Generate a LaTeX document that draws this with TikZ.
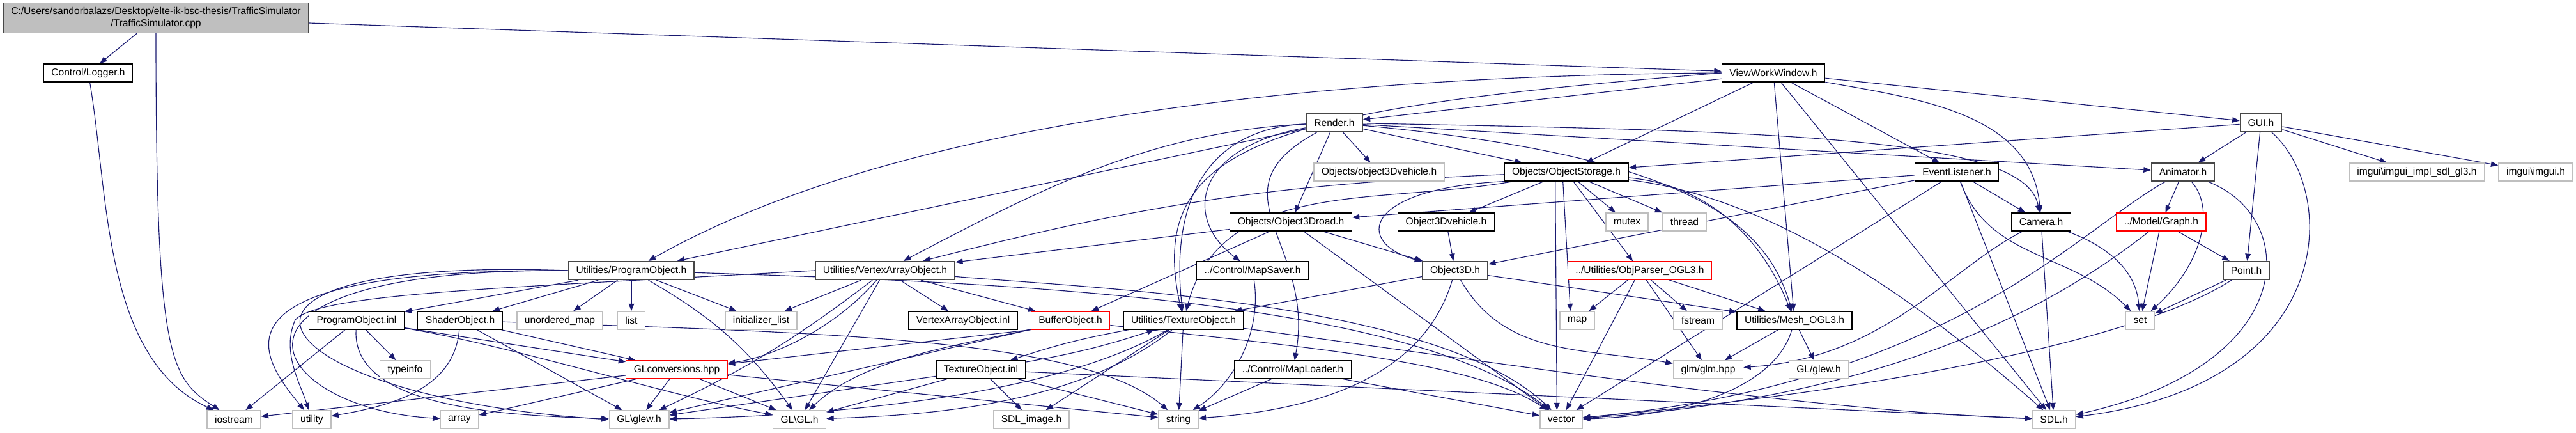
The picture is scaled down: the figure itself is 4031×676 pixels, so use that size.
\documentclass[tikz,border=0pt]{standalone}
\usepackage{fontspec}
\newfontfamily\doxfont{Liberation Sans}
\usetikzlibrary{arrows.meta,backgrounds}
\definecolor{edgeblue}{HTML}{191970}
\definecolor{sysgray}{HTML}{BFBFBF}
\tikzset{
  file/.style={draw=black, line width=1pt, fill=white, minimum height=21pt,
    inner xsep=9pt, inner ysep=0pt, font=\doxfont\fontsize{11.7}{14}\selectfont},
  docfile/.style={file, draw=black!72, line width=1.6pt},
  sysfile/.style={file, draw=sysgray, line width=1.2pt},
  cutfile/.style={file, draw=red, line width=1pt},
  rootfile/.style={file, fill=sysgray, draw=black!72, align=center, minimum height=35pt},
  dep/.style={draw=edgeblue, line width=0.85pt, -{Triangle[length=8.5pt,width=6.5pt]}},
}

\begin{document}
\begin{tikzpicture}[x=0.75pt, y=-0.75pt]
\useasboundingbox (0,0) rectangle (4031,676);

% files
\node[rootfile] (root) at (244,28) {C:/Users/sandorbalazs/Desktop/elte-ik-bsc-thesis/TrafficSimulator\\/TrafficSimulator.cpp};
\node[file] (logger) at (138,114) {Control/Logger.h};
\node[file] (vww) at (2775,114) {ViewWorkWindow.h};
\node[docfile] (render) at (2088,192) {Render.h};
\node[docfile] (gui) at (3538,192) {GUI.h};
\node[file] (objstor) at (2451,269) {Objects/ObjectStorage.h};
\node[sysfile] (objveh) at (2158,269) {Objects/object3Dvehicle.h};
\node[file] (evl) at (3062,269) {EventListener.h};
\node[docfile] (anim) at (3416,269) {Animator.h};
\node[sysfile] (imguiimpl) at (3782,269) {imgui\textbackslash imgui\_impl\_sdl\_gl3.h};
\node[sysfile] (imgui) at (3968,269) {imgui\textbackslash imgui.h};
\node[file] (road) at (2020,347) {Objects/Object3Droad.h};
\node[file] (vehicle) at (2263,347) {Object3Dvehicle.h};
\node[sysfile] (mutex) at (2546,347) {mutex};
\node[sysfile] (thread) at (2636,347) {thread};
\node[file] (camera) at (3194,347) {Camera.h};
\node[cutfile] (graph) at (3382,347) {../Model/Graph.h};
\node[docfile] (progobj) at (988,423) {Utilities/ProgramObject.h};
\node[docfile] (vao) at (1385,423) {Utilities/VertexArrayObject.h};
\node[file] (mapsaver) at (1960,423) {../Control/MapSaver.h};
\node[docfile] (obj3d) at (2277,423) {Object3D.h};
\node[cutfile] (objparser) at (2566,423) {../Utilities/ObjParser\_OGL3.h};
\node[docfile] (point) at (3515,423) {Point.h};
\node[file] (progobjinl) at (558,501) {ProgramObject.inl};
\node[file] (shader) at (720,501) {ShaderObject.h};
\node[sysfile] (umap) at (876,501) {unordered\_map};
\node[sysfile] (list) at (988,501) {list};
\node[sysfile] (initlist) at (1191,501) {initializer\_list};
\node[file] (vaoinl) at (1507,501) {VertexArrayObject.inl};
\node[cutfile] (buffer) at (1675,501) {BufferObject.h};
\node[file] (texobj) at (1852,501) {Utilities/TextureObject.h};
\node[sysfile] (map) at (2468,501) {map};
\node[sysfile] (fstream) at (2657,501) {fstream};
\node[file] (mesh) at (2808,501) {Utilities/Mesh\_OGL3.h};
\node[sysfile] (set) at (3349,501) {set};
\node[sysfile] (typeinfo) at (634,578) {typeinfo};
\node[cutfile] (glconv) at (1059,578) {GLconversions.hpp};
\node[file] (texinl) at (1535,578) {TextureObject.inl};
\node[file] (maploader) at (2023,578) {../Control/MapLoader.h};
\node[sysfile] (glmhpp) at (2673,578) {glm/glm.hpp};
\node[sysfile] (glglew) at (2846,578) {GL/glew.h};
\node[sysfile] (iostream) at (366,656) {iostream};
\node[sysfile] (utility) at (488,656) {utility};
\node[sysfile] (array) at (719,656) {array};
\node[sysfile] (glew) at (1000,656) {GL\textbackslash glew.h};
\node[sysfile] (glgl) at (1251,656) {GL\textbackslash GL.h};
\node[sysfile] (sdlimage) at (1614,656) {SDL\_image.h};
\node[sysfile] (string) at (1844,656) {string};
\node[sysfile] (vector) at (2443,656) {vector};
\node[sysfile] (sdl) at (3214,656) {SDL.h};

\begin{scope}[on background layer]
% TrafficSimulator.cpp and Logger
\draw[dep] (root) -- (logger);
\draw[dep] (root) .. controls (244,560) and (265,590) .. (iostream);
\draw[dep] (root) -- (vww);
\draw[dep] (logger) .. controls (170,300) and (160,560) .. (iostream);

% ViewWorkWindow.h
\draw[dep] (vww) -- (render);
\draw[dep] (vww) -- (objstor);
\draw[dep] (vww.west) .. controls (2050,118) and (1400,190) .. (progobj);
\draw[dep] (vww.west) .. controls (2000,170) and (1790,220) .. (texobj);
\draw[dep] (vww) -- (evl);
\draw[dep] (vww) to[out=-10,in=95] (camera);
\draw[dep] (vww) -- (gui);
\draw[dep] (vww) -- (mesh);
\draw[dep] (vww) -- (sdl);

% Render.h
\draw[dep] (render) -- (progobj);
\draw[dep] (render) .. controls (1800,205) and (1620,300) .. (vao);
\draw[dep] (render) .. controls (1900,200) and (1830,300) .. (texobj);
\draw[dep] (render) .. controls (1870,230) and (1850,340) .. (mapsaver);
\draw[dep] (render) .. controls (1890,300) and (2060,380) .. (maploader);
\draw[dep] (render) -- (road);
\draw[dep] (render) -- (objveh);
\draw[dep] (render) -- (objstor);
\draw[dep] (render) .. controls (2800,205) and (3170,215) .. (camera);
\draw[dep] (render) -- (anim);
\draw[dep] (render) .. controls (2600,240) and (2760,330) .. (mesh);

% GUI.h
\draw[dep] (gui) -- (objstor);
\draw[dep] (gui) -- (anim);
\draw[dep] (gui) -- (point);
\draw[dep] (gui) .. controls (3660,300) and (3660,600) .. (sdl);
\draw[dep] (gui) -- (imguiimpl);
\draw[dep] (gui) -- (imgui);

% Objects/ObjectStorage.h
\draw[dep] (objstor) to[bend right=6] (vao);
\draw[dep] (objstor) to[out=190,in=75] (texobj);
\draw[dep] (objstor.south west) .. controls (2130,295) and (2120,380) .. (obj3d);
\draw[dep] (objstor) -- (vehicle);
\draw[dep] ([xshift=-13pt]objstor.south) -- ([xshift=-5pt]vector.north);
\draw[dep] ([xshift=-4pt]objstor.south) -- ([xshift=-8pt]map.north);
\draw[dep] (objstor) -- (objparser);
\draw[dep] (objstor) -- (mutex);
\draw[dep] (objstor) -- (thread);
\draw[dep] (objstor) .. controls (2680,290) and (2760,380) .. (mesh);
\draw[dep] (objstor) .. controls (2700,300) and (2900,380) .. (sdl);

% EventListener.h
\draw[dep] (evl) -- (road);
\draw[dep] (evl) -- (obj3d);
\draw[dep] (evl) -- (vector);
\draw[dep] (evl) -- (sdl);
\draw[dep] (evl) to[out=-70,in=135] (set);
\draw[dep] (evl) -- (camera);

% Animator.h, Camera.h, Graph.h, Point.h
\draw[dep] (anim) -- (graph);
\draw[dep] (anim) .. controls (3470,330) and (3440,420) .. (set);
\draw[dep] (anim) .. controls (3250,360) and (3050,600) .. (vector);
\draw[dep] (anim) .. controls (3600,340) and (3600,570) .. (sdl);
\draw[dep] (camera) .. controls (3050,420) and (2950,560) .. (glmhpp);
\draw[dep] (camera) -- (sdl);
\draw[dep] (camera) to[out=-20,in=95] (set);
\draw[dep] (graph) .. controls (3250,450) and (3000,620) .. (vector);
\draw[dep] (graph) -- (set);
\draw[dep] (graph) -- (point);
\draw[dep] (point) -- (set);
\draw[dep] (point) .. controls (3350,530) and (2950,610) .. (vector);

% Object3D family
\draw[dep] (road) -- (vao);
\draw[dep] (road) -- (buffer);
\draw[dep] (road) -- (obj3d);
\draw[dep] (road) -- (vector);
\draw[dep] (vehicle) -- (obj3d);
\draw[dep] (obj3d) -- (texobj);
\draw[dep] (obj3d) .. controls (2230,580) and (2080,640) .. (string);
\draw[dep] (obj3d) to[out=-60,in=170] (glmhpp);
\draw[dep] (obj3d) -- (mesh);
\draw[dep] (objparser) -- (map);
\draw[dep] (objparser) -- (vector);
\draw[dep] (objparser) -- (glmhpp);
\draw[dep] (objparser) -- (fstream);
\draw[dep] (objparser) -- (mesh);
\draw[dep] (mesh) -- (glglew);
\draw[dep] (mesh) -- (glmhpp);
\draw[dep] (mesh) .. controls (2780,600) and (2650,650) .. (vector);
\draw[dep] (mapsaver) .. controls (1975,520) and (1930,600) .. (string);
\draw[dep] (maploader) -- (string);
\draw[dep] (maploader) -- (vector);

% Utilities/ProgramObject.h
\draw[dep] (progobj) -- (progobjinl);
\draw[dep] (progobj) -- (shader);
\draw[dep] (progobj) -- (umap);
\draw[dep] (progobj) -- (list);
\draw[dep] (progobj) -- (initlist);
\draw[dep] (progobj) to[bend left=12] (glgl);
\draw[dep] (progobj.west) .. controls (250,400) and (400,620) .. (glew.west);
\draw[dep] (progobj.west) .. controls (300,420) and (410,560) .. (utility);
\draw[dep] (progobj.west) .. controls (280,420) and (420,640) .. (array);
\draw[dep] (progobj) .. controls (1500,440) and (2200,460) .. (vector);

% Utilities/VertexArrayObject.h
\draw[dep] (vao) -- (initlist);
\draw[dep] (vao) -- (vaoinl);
\draw[dep] (vao) -- (buffer);
\draw[dep] (vao) .. controls (1300,520) and (1200,560) .. (glconv);
\draw[dep] (vao) to[bend left=6] (glew);
\draw[dep] (vao) -- (glgl);
\draw[dep] (vao.west) .. controls (800,450) and (500,458) .. (462,500) .. controls (440,550) and (470,600) .. (utility);
\draw[dep] (vao) .. controls (1700,450) and (2250,470) .. (vector);

% ProgramObject.inl and ShaderObject.h
\draw[dep] (progobjinl) -- (typeinfo);
\draw[dep] (progobjinl) -- (iostream);
\draw[dep] (progobjinl) .. controls (550,640) and (800,650) .. (glew);
\draw[dep] (progobjinl) .. controls (800,540) and (1050,620) .. (glgl);
\draw[dep] (progobjinl) -- (glconv);
\draw[dep] (shader) -- (glconv);
\draw[dep] (shader) -- (glew);
\draw[dep] (shader) to[out=-95,in=10] (utility);
\draw[dep] (shader) .. controls (1300,520) and (1700,530) .. (string);

% BufferObject.h, TextureObject.h, TextureObject.inl
\draw[dep] (buffer) -- (glew);
\draw[dep] (buffer) .. controls (1500,540) and (1350,560) .. (glgl);
\draw[dep] (buffer.south west) -- (glconv);
\draw[dep] (buffer) .. controls (2000,540) and (2300,560) .. (vector);
\draw[dep] (texobj) to[bend right=4] (texinl);
\draw[dep] (texinl) to[bend right=4] (texobj);
\draw[dep] (texobj) -- (sdlimage);
\draw[dep] (texobj) -- (string);
\draw[dep] (texobj) .. controls (1650,620) and (1300,650) .. (glew);
\draw[dep] (texobj) .. controls (1680,640) and (1420,650) .. (glgl);
\draw[dep] (texobj) .. controls (2300,560) and (2800,640) .. (sdl);
\draw[dep] (texinl) -- (sdlimage);
\draw[dep] (texinl) -- (glew);
\draw[dep] (texinl) -- (glgl);
\draw[dep] (texinl) -- (string);
\draw[dep] (texinl) -- (sdl);

% GLconversions.hpp
\draw[dep] (glconv) -- (glew);
\draw[dep] (glconv) -- (glgl);
\draw[dep] (glconv) -- (array);
\draw[dep] (glconv) -- (iostream);
\draw[dep] (glconv) -- (string);
\end{scope}
\end{tikzpicture}
\end{document}
